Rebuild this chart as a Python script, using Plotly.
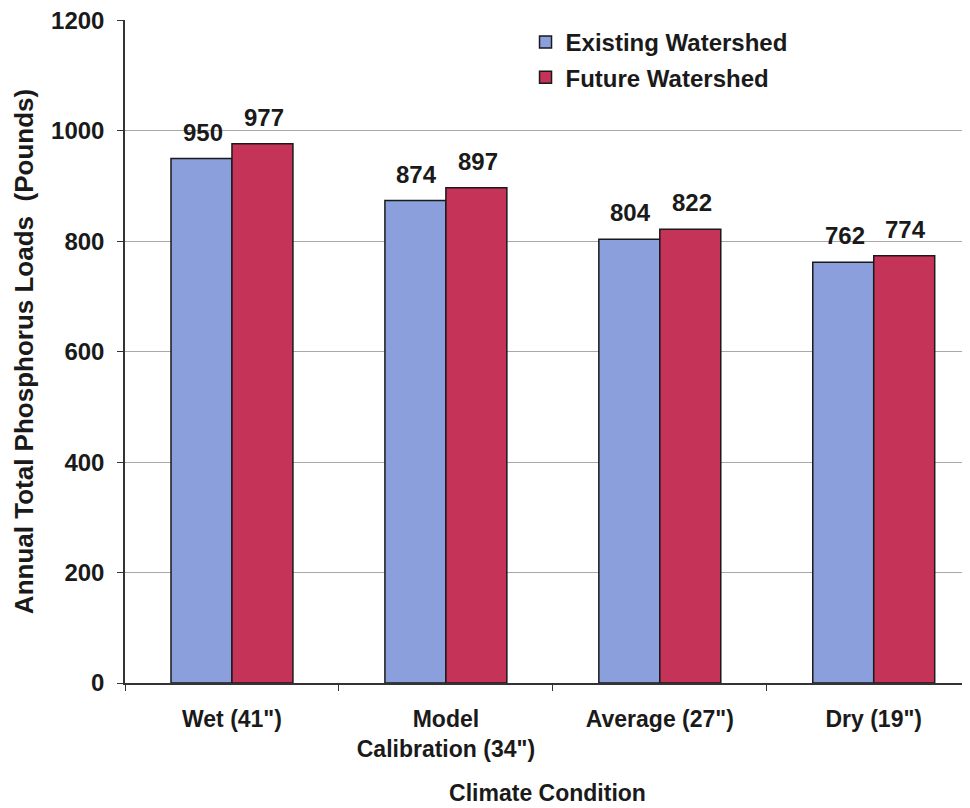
import plotly.graph_objects as go

categories = ["Wet (41\")", "Model<br>Calibration (34\")", "Average (27\")", "Dry (19\")"]
existing = [950, 874, 804, 762]
future = [977, 897, 822, 774]
y_ticks = [0, 200, 400, 600, 800, 1000, 1200]

font_family = "Liberation Sans, Arial, sans-serif"
ink = "#1a1a1a"

fig = go.Figure()
fig.add_trace(go.Bar(
    name="<b>Existing Watershed</b>", x=categories, y=existing,
    marker=dict(color="#8a9fdb", line=dict(color=ink, width=1.5)),
    legendgroup="a",
))
fig.add_trace(go.Bar(
    name="<b>Future Watershed</b>", x=categories, y=future,
    marker=dict(color="#c63359", line=dict(color=ink, width=1.5)),
    legendgroup="b",
))

# value labels above bars
annotations = []
for i, c in enumerate(categories):
    for vals, shift in ((existing, -29), (future, 32)):
        annotations.append(dict(
            x=c, y=vals[i], xref="x", yref="y", text=f"<b>{vals[i]}</b>",
            showarrow=False, xshift=shift, yshift=11, yanchor="bottom",
            font=dict(size=24, color=ink, family=font_family),
        ))

fig.update_layout(
    width=970, height=808,
    margin=dict(l=117, r=8, t=12, b=133),
    paper_bgcolor="white", plot_bgcolor="white",
    barmode="group", bargap=0.43, bargroupgap=0,
    font=dict(family=font_family, size=24, color=ink),
    annotations=annotations,
    legend=dict(
        x=0.474, y=1.0, xanchor="left", yanchor="top",
        font=dict(size=24, color=ink, family=font_family),
        bgcolor="rgba(0,0,0,0)", itemwidth=30, tracegroupgap=1,
    ),
    xaxis=dict(
        range=[-0.5, 3.45], automargin=False,
        tickvals=categories,
        ticktext=[f"<b>{c}</b>" for c in categories],
        showline=True, linecolor="#333", linewidth=1.5,
        ticks="outside", tickson="boundaries", ticklen=6, tickcolor="#333",
        ticklabelstandoff=15,
        tickfont=dict(size=23, family=font_family, color=ink),
        title=dict(text="<b>Climate Condition</b>", font=dict(size=23), standoff=24),
    ),
    yaxis=dict(
        range=[0, 1201], tickvals=y_ticks, automargin=False,
        ticktext=[f"<b>{v}</b>" for v in y_ticks],
        showline=True, linecolor="#333", linewidth=1.5,
        showgrid=True, gridcolor="#a8a8a8", gridwidth=1,
        ticks="outside", ticklen=6, tickcolor="#333",
        ticklabelstandoff=8, ticklabeloverflow="allow",
        tickfont=dict(size=24, family=font_family, color=ink),
        title=dict(text="<b>Annual Total Phosphorus Loads  (Pounds)</b>", font=dict(size=26), standoff=10),
        zeroline=False,
    ),
)

fig.write_html("out.html")
